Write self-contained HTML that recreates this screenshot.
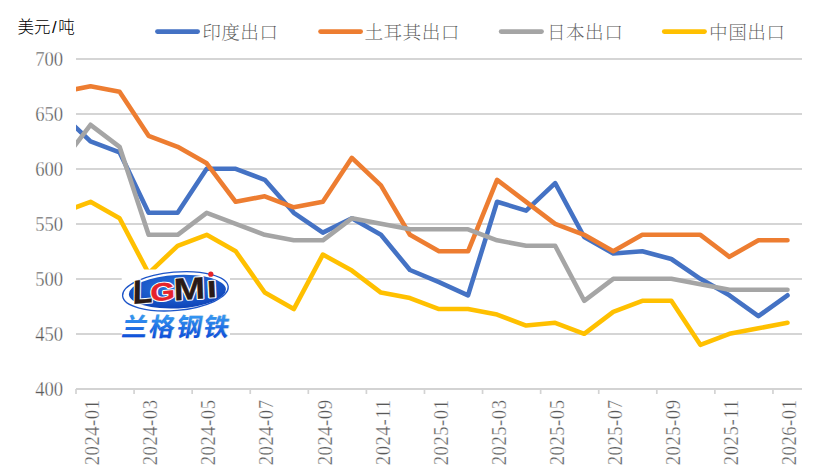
<!DOCTYPE html>
<html lang="zh-CN"><head><meta charset="utf-8"><title>出口价格走势</title>
<style>
html,body{margin:0;padding:0;background:#fff;}
body{width:827px;height:472px;overflow:hidden;position:relative;}
svg{display:block;position:absolute;left:0;top:0;}
.ax{font-family:"Liberation Serif","Noto Serif CJK SC",serif;font-size:18.67px;fill:#595959;stroke:#fff;stroke-width:0.3px;}
.lg{font-family:"Liberation Serif","Noto Serif CJK SC",serif;font-size:18.67px;font-weight:200;fill:#595959;letter-spacing:0.4px;}
.unit{font-family:"Liberation Sans","Noto Sans CJK SC",sans-serif;font-size:16.5px;font-weight:300;fill:#000;}
</style></head><body>
<svg width="827" height="472" viewBox="0 0 827 472">
<defs><clipPath id="plot"><rect x="76.00" y="40" width="760" height="360"/></clipPath>
<linearGradient id="cn" x1="0" y1="0" x2="0" y2="1"><stop offset="0" stop-color="#3aa2f6"/><stop offset="1" stop-color="#0a45d6"/></linearGradient>
<radialGradient id="el" cx="0.5" cy="0.35" r="0.7"><stop offset="0" stop-color="#2b78e0"/><stop offset="1" stop-color="#0c3fb5"/></radialGradient>
</defs>
<rect width="827" height="472" fill="#fff"/>
<line x1="76.00" y1="59.00" x2="802.00" y2="59.00" stroke="#D5D5D5" stroke-width="2"/>
<line x1="76.00" y1="114.00" x2="802.00" y2="114.00" stroke="#D5D5D5" stroke-width="2"/>
<line x1="76.00" y1="169.00" x2="802.00" y2="169.00" stroke="#D5D5D5" stroke-width="2"/>
<line x1="76.00" y1="224.00" x2="802.00" y2="224.00" stroke="#D5D5D5" stroke-width="2"/>
<line x1="76.00" y1="279.00" x2="802.00" y2="279.00" stroke="#D5D5D5" stroke-width="2"/>
<line x1="76.00" y1="334.00" x2="802.00" y2="334.00" stroke="#D5D5D5" stroke-width="2"/>
<line x1="76.00" y1="389.00" x2="802.00" y2="389.00" stroke="#D3D3D3" stroke-width="2"/>
<line x1="76.00" y1="389.00" x2="76.00" y2="394.00" stroke="#D3D3D3" stroke-width="1.7"/>
<line x1="134.08" y1="389.00" x2="134.08" y2="394.00" stroke="#D3D3D3" stroke-width="1.7"/>
<line x1="192.16" y1="389.00" x2="192.16" y2="394.00" stroke="#D3D3D3" stroke-width="1.7"/>
<line x1="250.24" y1="389.00" x2="250.24" y2="394.00" stroke="#D3D3D3" stroke-width="1.7"/>
<line x1="308.32" y1="389.00" x2="308.32" y2="394.00" stroke="#D3D3D3" stroke-width="1.7"/>
<line x1="366.40" y1="389.00" x2="366.40" y2="394.00" stroke="#D3D3D3" stroke-width="1.7"/>
<line x1="424.48" y1="389.00" x2="424.48" y2="394.00" stroke="#D3D3D3" stroke-width="1.7"/>
<line x1="482.56" y1="389.00" x2="482.56" y2="394.00" stroke="#D3D3D3" stroke-width="1.7"/>
<line x1="540.64" y1="389.00" x2="540.64" y2="394.00" stroke="#D3D3D3" stroke-width="1.7"/>
<line x1="598.72" y1="389.00" x2="598.72" y2="394.00" stroke="#D3D3D3" stroke-width="1.7"/>
<line x1="656.80" y1="389.00" x2="656.80" y2="394.00" stroke="#D3D3D3" stroke-width="1.7"/>
<line x1="714.88" y1="389.00" x2="714.88" y2="394.00" stroke="#D3D3D3" stroke-width="1.7"/>
<line x1="772.96" y1="389.00" x2="772.96" y2="394.00" stroke="#D3D3D3" stroke-width="1.7"/>
<text class="ax" transform="translate(63.2,65.60) scale(1,1.09)" text-anchor="end">700</text>
<text class="ax" transform="translate(63.2,120.60) scale(1,1.09)" text-anchor="end">650</text>
<text class="ax" transform="translate(63.2,175.60) scale(1,1.09)" text-anchor="end">600</text>
<text class="ax" transform="translate(63.2,230.60) scale(1,1.09)" text-anchor="end">550</text>
<text class="ax" transform="translate(63.2,285.60) scale(1,1.09)" text-anchor="end">500</text>
<text class="ax" transform="translate(63.2,340.60) scale(1,1.09)" text-anchor="end">450</text>
<text class="ax" transform="translate(63.2,395.60) scale(1,1.09)" text-anchor="end">400</text>
<text class="ax" transform="translate(99.22,465.3) rotate(-90) scale(1,1.09)" textLength="65.3" lengthAdjust="spacing">2024-01</text>
<text class="ax" transform="translate(157.30,465.3) rotate(-90) scale(1,1.09)" textLength="65.3" lengthAdjust="spacing">2024-03</text>
<text class="ax" transform="translate(215.38,465.3) rotate(-90) scale(1,1.09)" textLength="65.3" lengthAdjust="spacing">2024-05</text>
<text class="ax" transform="translate(273.46,465.3) rotate(-90) scale(1,1.09)" textLength="65.3" lengthAdjust="spacing">2024-07</text>
<text class="ax" transform="translate(331.54,465.3) rotate(-90) scale(1,1.09)" textLength="65.3" lengthAdjust="spacing">2024-09</text>
<text class="ax" transform="translate(389.62,465.3) rotate(-90) scale(1,1.09)" textLength="65.3" lengthAdjust="spacing">2024-11</text>
<text class="ax" transform="translate(447.70,465.3) rotate(-90) scale(1,1.09)" textLength="65.3" lengthAdjust="spacing">2025-01</text>
<text class="ax" transform="translate(505.78,465.3) rotate(-90) scale(1,1.09)" textLength="65.3" lengthAdjust="spacing">2025-03</text>
<text class="ax" transform="translate(563.86,465.3) rotate(-90) scale(1,1.09)" textLength="65.3" lengthAdjust="spacing">2025-05</text>
<text class="ax" transform="translate(621.94,465.3) rotate(-90) scale(1,1.09)" textLength="65.3" lengthAdjust="spacing">2025-07</text>
<text class="ax" transform="translate(680.02,465.3) rotate(-90) scale(1,1.09)" textLength="65.3" lengthAdjust="spacing">2025-09</text>
<text class="ax" transform="translate(738.10,465.3) rotate(-90) scale(1,1.09)" textLength="65.3" lengthAdjust="spacing">2025-11</text>
<text class="ax" transform="translate(796.18,465.3) rotate(-90) scale(1,1.09)" textLength="65.3" lengthAdjust="spacing">2026-01</text>
<text class="unit" x="17.6" y="33.2">美元<tspan dx="1.4">/</tspan><tspan dx="1.6">吨</tspan></text>
<g clip-path="url(#plot)" fill="none" stroke-width="4.6" stroke-linejoin="round" stroke-linecap="round">
<polyline stroke="#4472C4" points="61.48,113.80 90.52,141.30 119.56,152.30 148.60,212.80 177.64,212.80 206.68,168.80 235.72,168.80 264.76,179.80 293.80,212.80 322.84,232.60 351.88,218.30 380.92,234.80 409.96,270.00 439.00,282.10 468.04,295.30 497.08,201.80 526.12,210.60 555.16,183.10 584.20,237.00 613.24,253.50 642.28,251.30 671.32,259.00 700.36,278.80 729.40,295.30 758.44,316.20 787.48,295.30"/>
<polyline stroke="#ED7D31" points="61.48,91.80 90.52,86.30 119.56,91.80 148.60,135.80 177.64,146.80 206.68,163.30 235.72,201.80 264.76,196.30 293.80,207.30 322.84,201.80 351.88,157.80 380.92,185.30 409.96,234.80 439.00,251.30 468.04,251.30 497.08,179.80 526.12,201.80 555.16,223.80 584.20,234.80 613.24,251.30 642.28,234.80 671.32,234.80 700.36,234.80 729.40,256.80 758.44,240.30 787.48,240.30"/>
<polyline stroke="#A5A5A5" points="61.48,163.30 90.52,124.80 119.56,146.80 148.60,234.80 177.64,234.80 206.68,212.80 235.72,223.80 264.76,234.80 293.80,240.30 322.84,240.30 351.88,218.30 380.92,223.80 409.96,229.30 439.00,229.30 468.04,229.30 497.08,240.30 526.12,245.80 555.16,245.80 584.20,300.80 613.24,278.80 642.28,278.80 671.32,278.80 700.36,284.30 729.40,289.80 758.44,289.80 787.48,289.80"/>
<polyline stroke="#FFC000" points="61.48,212.80 90.52,201.80 119.56,218.30 148.60,273.30 177.64,245.80 206.68,234.80 235.72,251.30 264.76,292.55 293.80,309.05 322.84,254.60 351.88,270.55 380.92,292.55 409.96,298.05 439.00,309.05 468.04,309.05 497.08,314.55 526.12,325.55 555.16,322.80 584.20,333.80 613.24,311.80 642.28,300.80 671.32,300.80 700.36,344.80 729.40,333.80 758.44,328.30 787.48,322.80"/>
</g>
<line x1="157.40" y1="31.6" x2="197.70" y2="31.6" stroke="#4472C4" stroke-width="4.6" stroke-linecap="round"/>
<text class="lg" x="202.20" y="38.8">印度出口</text>
<line x1="320.50" y1="31.6" x2="360.70" y2="31.6" stroke="#ED7D31" stroke-width="4.6" stroke-linecap="round"/>
<text class="lg" x="364.50" y="38.8">土耳其出口</text>
<line x1="501.10" y1="31.6" x2="541.60" y2="31.6" stroke="#A5A5A5" stroke-width="4.6" stroke-linecap="round"/>
<text class="lg" x="547.00" y="38.8">日本出口</text>
<line x1="664.20" y1="31.6" x2="704.60" y2="31.6" stroke="#FFC000" stroke-width="4.6" stroke-linecap="round"/>
<text class="lg" x="709.10" y="38.8">中国出口</text>
<g id="logo">
<rect x="121.7" y="269.5" width="108.3" height="70.5" fill="#fff"/>
<ellipse cx="175.4" cy="291.3" rx="53" ry="19.2" transform="rotate(-5 175.4 291.3)" fill="none" stroke="#1d55c8" stroke-width="1.3"/>
<ellipse cx="177.4" cy="291.7" rx="48.6" ry="16.7" transform="rotate(-3 177.4 291.7)" fill="url(#el)"/>
<g font-family="&quot;Liberation Sans&quot;,sans-serif" font-weight="bold" stroke-linejoin="round">
<text transform="translate(132.6,304.0) rotate(-5) skewX(-6) scale(1.0,1)" font-size="33" fill="#fff" stroke="#fff" stroke-width="2.4">L</text>
<text transform="translate(150.6,301.6) rotate(-5) skewX(-4) scale(1.27,1)" font-size="25" fill="#fff" stroke="#fff" stroke-width="2.4">G</text>
<text transform="translate(174.0,300.6) rotate(-4) skewX(-2) scale(1.22,1)" font-size="31" fill="#fff" stroke="#fff" stroke-width="2.4">M</text>
<text transform="translate(207.6,297.6) rotate(-3) scale(1.45,1)" font-size="23.5" fill="#fff" stroke="#fff" stroke-width="2.4">I</text>
<text transform="translate(132.6,304.0) rotate(-5) skewX(-6) scale(1.0,1)" font-size="33" fill="#2a1a16" stroke="#2a1a16" stroke-width="0.4">L</text>
<text transform="translate(150.6,301.6) rotate(-5) skewX(-4) scale(1.27,1)" font-size="25" fill="#e5232b" stroke="#e5232b" stroke-width="0.4">G</text>
<text transform="translate(174.0,300.6) rotate(-4) skewX(-2) scale(1.22,1)" font-size="31" fill="#2a1a16" stroke="#2a1a16" stroke-width="0.4">M</text>
<text transform="translate(207.6,297.6) rotate(-3) scale(1.45,1)" font-size="23.5" fill="#2a1a16" stroke="#2a1a16" stroke-width="0.4">I</text>
</g>
<circle cx="210.8" cy="274.2" r="2.6" fill="#e5232b"/>
<text transform="translate(121.6,336.4) skewX(-10)" font-family="&quot;Liberation Sans&quot;,&quot;Noto Sans CJK SC&quot;,sans-serif" font-weight="700" font-size="25.3" style="letter-spacing:1.9px" fill="#9aa6bd" opacity="0.55">兰格钢铁</text>
<text transform="translate(120.8,335.6) skewX(-10)" font-family="&quot;Liberation Sans&quot;,&quot;Noto Sans CJK SC&quot;,sans-serif" font-weight="700" font-size="25.3" style="letter-spacing:1.9px" fill="url(#cn)">兰格钢铁</text>
</g>
</svg>
</body></html>
